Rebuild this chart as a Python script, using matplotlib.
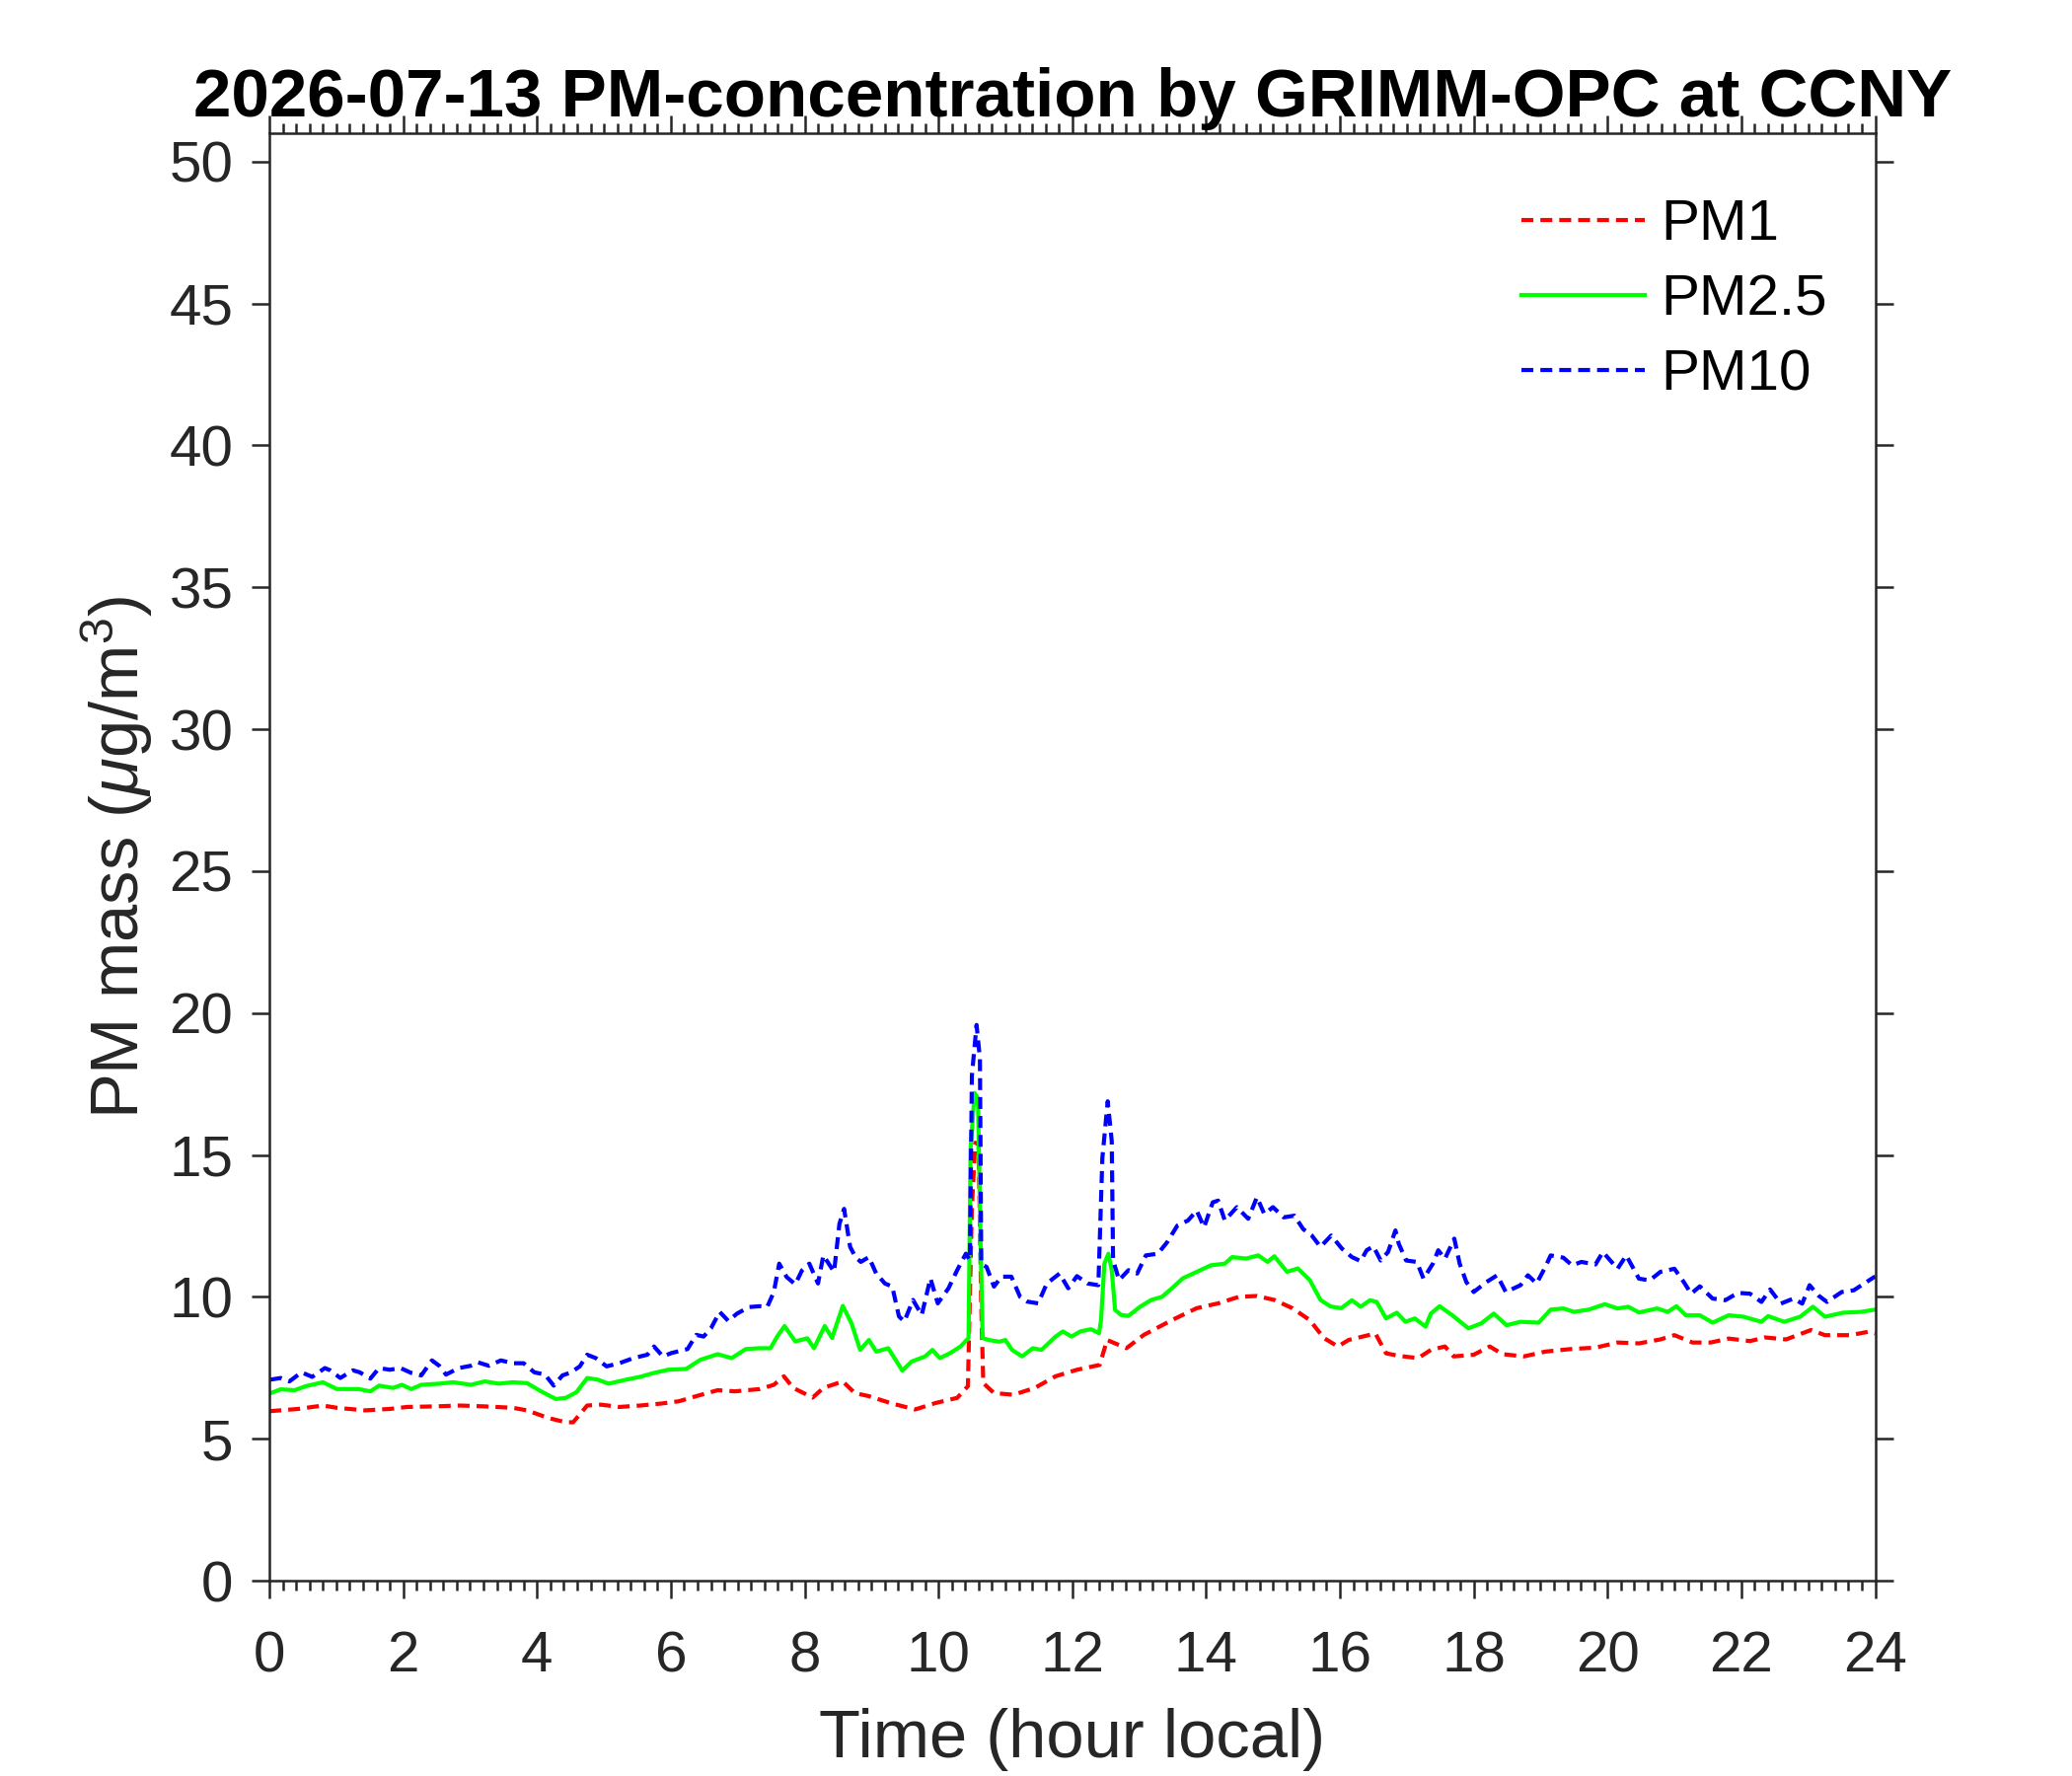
import matplotlib
matplotlib.use('Agg')
import matplotlib.pyplot as plt
from matplotlib.ticker import MultipleLocator, NullLocator

plt.rcParams['font.family'] = ['Liberation Sans', 'DejaVu Sans']
plt.rcParams['mathtext.fontset'] = 'custom'
plt.rcParams['mathtext.rm'] = 'Liberation Sans'
plt.rcParams['mathtext.it'] = 'Liberation Sans:italic'

# ---------------- data ----------------
t_pm1 = [0.0, 0.43, 0.8, 1.01, 1.43, 1.8, 2.06, 2.48, 2.85, 3.22, 3.64, 3.85, 4.17, 4.43, 4.54,
         4.75, 4.96, 5.23, 5.54, 5.86, 6.12, 6.38, 6.7, 6.96, 7.33, 7.54, 7.69, 7.83, 8.12, 8.28,
         8.57, 8.75, 8.96, 9.28, 9.65, 9.96, 10.28, 10.44, 10.5, 10.55, 10.6, 10.64, 10.67, 10.83,
         11.12, 11.44, 11.75, 12.07, 12.41, 12.52, 12.81, 13.07, 13.49, 13.86, 14.18, 14.49, 14.76,
         15.02, 15.29, 15.55, 15.76, 15.97, 16.13, 16.34, 16.53, 16.69, 16.88, 17.17, 17.36, 17.57,
         17.7, 18.0, 18.24, 18.43, 18.75, 19.07, 19.45, 19.82, 20.15, 20.47, 20.79, 21.0, 21.27,
         21.54, 21.81, 22.13, 22.35, 22.67, 23.04, 23.25, 23.63, 23.9, 24.0]
pm1 = [5.97, 6.05, 6.17, 6.09, 6.0, 6.05, 6.12, 6.14, 6.17, 6.14, 6.09, 6.0, 5.73, 5.58, 5.58,
       6.17, 6.2, 6.12, 6.17, 6.24, 6.32, 6.5, 6.71, 6.67, 6.75, 6.9, 7.2, 6.79, 6.45, 6.79,
       7.02, 6.61, 6.5, 6.26, 6.03, 6.26, 6.44, 6.85, 13.15, 15.43, 15.37, 9.64, 6.96, 6.61,
       6.55, 6.79, 7.2, 7.43, 7.6, 8.48, 8.19, 8.66, 9.18, 9.6, 9.77, 10.0, 10.03,
       9.89, 9.6, 9.18, 8.55, 8.25, 8.48, 8.6, 8.71, 8.01, 7.92, 7.84, 8.13, 8.25,
       7.9, 7.96, 8.25, 7.98, 7.9, 8.07, 8.16, 8.21, 8.39, 8.36, 8.5, 8.65, 8.39,
       8.39, 8.53, 8.44, 8.57, 8.5, 8.83, 8.65, 8.65, 8.77, 8.71]

t_pm25 = [0.01, 0.17, 0.38, 0.54, 0.8, 1.01, 1.33, 1.51, 1.64, 1.85, 1.98, 2.12, 2.27, 2.54, 2.75,
          3.01, 3.22, 3.43, 3.64, 3.85, 4.06, 4.28, 4.43, 4.59, 4.75, 4.91, 5.07, 5.33, 5.54, 5.75,
          5.96, 6.23, 6.44, 6.7, 6.91, 7.12, 7.33, 7.49, 7.59, 7.7, 7.86, 8.04, 8.14, 8.3, 8.41,
          8.57, 8.7, 8.83, 8.96, 9.07, 9.25, 9.46, 9.6, 9.8, 9.91, 10.02, 10.17, 10.33, 10.45, 10.48,
          10.54, 10.59, 10.62, 10.66, 10.75, 10.91, 11.0, 11.1, 11.25, 11.41, 11.54, 11.75, 11.86,
          11.99, 12.12, 12.28, 12.4, 12.43, 12.48, 12.54, 12.59, 12.64, 12.73, 12.84, 13.02, 13.18,
          13.34, 13.49, 13.65, 13.86, 14.07, 14.28, 14.39, 14.6, 14.78, 14.92, 15.02, 15.21, 15.37,
          15.55, 15.71, 15.86, 16.02, 16.18, 16.31, 16.45, 16.55, 16.69, 16.85, 16.98, 17.12, 17.28,
          17.36, 17.49, 17.68, 17.92, 18.11, 18.3, 18.49, 18.7, 18.97, 19.15, 19.34, 19.5, 19.72,
          19.96, 20.15, 20.31, 20.47, 20.74, 20.9, 21.03, 21.17, 21.38, 21.57, 21.81, 22.03, 22.3,
          22.4, 22.64, 22.88, 23.07, 23.25, 23.52, 23.79, 24.0]
pm25 = [6.6, 6.74, 6.71, 6.85, 6.99, 6.75, 6.75, 6.67, 6.87, 6.79, 6.9, 6.75, 6.9, 6.94, 6.99,
        6.9, 7.02, 6.94, 6.99, 6.96, 6.67, 6.4, 6.44, 6.64, 7.14, 7.08, 6.94, 7.08, 7.18, 7.32,
        7.43, 7.46, 7.78, 7.98, 7.84, 8.16, 8.19, 8.19, 8.6, 8.97, 8.43, 8.54, 8.19, 8.97, 8.55,
        9.68, 9.07, 8.13, 8.48, 8.07, 8.19, 7.4, 7.72, 7.9, 8.13, 7.84, 8.01, 8.25, 8.55, 15.2,
        17.18, 17.0, 13.15, 8.55, 8.48, 8.42, 8.48, 8.13, 7.9, 8.19, 8.13, 8.6, 8.78,
        8.6, 8.78, 8.86, 8.72, 9.18, 11.17, 11.52, 10.94, 9.54, 9.36, 9.33, 9.66, 9.89,
        10.0, 10.3, 10.65, 10.88, 11.11, 11.17, 11.4, 11.35, 11.46, 11.23, 11.43, 10.88, 11.0,
        10.59, 9.89, 9.66, 9.6, 9.88, 9.65, 9.88, 9.82, 9.24, 9.44, 9.12, 9.24, 8.95,
        9.41, 9.67, 9.35, 8.89, 9.06, 9.41, 9.0, 9.12, 9.09, 9.55, 9.59, 9.47, 9.55,
        9.74, 9.59, 9.65, 9.45, 9.59, 9.47, 9.67, 9.35, 9.35, 9.09, 9.35, 9.3, 9.12,
        9.32, 9.12, 9.3, 9.65, 9.3, 9.44, 9.47, 9.55]

t_pm10 = [0.01, 0.17, 0.3, 0.48, 0.64, 0.83, 0.91, 1.06, 1.25, 1.35, 1.51, 1.64, 1.8, 1.96, 2.12,
          2.27, 2.43, 2.54, 2.64, 2.83, 3.01, 3.12, 3.28, 3.46, 3.64, 3.8, 3.96, 4.12, 4.25, 4.38,
          4.51, 4.64, 4.75, 4.88, 5.04, 5.23, 5.44, 5.65, 5.75, 5.88, 6.01, 6.25, 6.38, 6.49, 6.6,
          6.73, 6.86, 6.99, 7.17, 7.33, 7.44, 7.54, 7.62, 7.73, 7.86, 7.96, 8.07,
          8.2, 8.28, 8.44, 8.52, 8.59, 8.68, 8.76, 8.84, 8.96, 9.07, 9.2, 9.31, 9.41, 9.49, 9.62,
          9.75, 9.88, 9.99, 10.15, 10.28, 10.41, 10.47, 10.5, 10.57, 10.62, 10.64, 10.72, 10.83,
          10.94, 11.09, 11.22, 11.33, 11.49, 11.62, 11.81, 11.94, 12.07, 12.23, 12.39, 12.45, 12.53,
          12.59, 12.61, 12.7, 12.84, 12.97, 13.1, 13.28, 13.42, 13.57, 13.73, 13.86, 13.97, 14.1,
          14.18, 14.28, 14.46, 14.63, 14.76, 14.87, 15.0, 15.16, 15.32, 15.45, 15.58, 15.71, 15.87,
          16.03,
          16.18, 16.31, 16.4, 16.5, 16.61, 16.72, 16.83, 16.88, 16.99, 17.15, 17.25, 17.39, 17.47,
          17.57, 17.71, 17.79, 17.89, 18.0, 18.19, 18.35, 18.48, 18.7, 18.81, 18.94, 19.07, 19.15,
          19.34, 19.47, 19.61, 19.82, 19.93, 20.15, 20.28, 20.47, 20.63, 20.79, 21.0, 21.14, 21.25,
          21.38, 21.57, 21.76, 21.95, 22.13, 22.3, 22.43, 22.59, 22.78, 22.91, 23.02, 23.15, 23.28,
          23.5, 23.68, 23.87, 24.0]
pm10 = [7.08, 7.14, 7.02, 7.34, 7.18, 7.49, 7.41, 7.14, 7.41, 7.34, 7.12, 7.49, 7.43, 7.49, 7.32,
        7.23, 7.76, 7.57, 7.26, 7.49, 7.57, 7.69, 7.57, 7.76, 7.66, 7.66, 7.34, 7.26, 6.87, 7.23,
        7.34, 7.55, 7.96, 7.84, 7.55, 7.66, 7.84, 7.96, 8.25, 7.9, 8.02, 8.16, 8.66, 8.6, 8.89,
        9.47, 9.15, 9.41, 9.64, 9.67, 9.64, 10.17, 11.17, 10.7, 10.44, 10.93, 11.17,
        10.47, 11.46, 10.88, 12.57, 13.1, 11.76, 11.4, 11.23, 11.4, 10.82, 10.47, 10.36, 9.31, 9.13, 9.89,
        9.36, 10.65, 9.77, 10.3, 10.94, 11.52, 11.29, 17.8, 19.58, 18.4, 11.17, 11.05, 10.36,
        10.71, 10.71, 10.0, 9.83, 9.77, 10.47, 10.82, 10.3, 10.73, 10.47, 10.41, 14.9, 16.89,
        15.49, 11.29, 10.59, 10.94, 10.82, 11.46, 11.52, 11.93, 12.51, 12.69, 13.04, 12.45, 13.33,
        13.39, 12.69, 13.16, 12.75, 13.51, 12.92, 13.16, 12.8, 12.86, 12.39, 12.16, 11.76, 12.16,
        11.7,
        11.4, 11.26, 11.64, 11.78, 11.28, 11.58, 12.34, 11.87, 11.28, 11.23, 10.64, 11.17, 11.64,
        11.34, 12.05, 11.17, 10.52, 10.17, 10.52, 10.76, 10.17, 10.41, 10.76, 10.47, 11.05, 11.46,
        11.38, 11.11, 11.23, 11.14, 11.58, 10.99, 11.46, 10.64, 10.58, 10.88, 10.99, 10.52, 10.11,
        10.37, 9.94, 9.88, 10.14, 10.11, 9.82, 10.26, 9.76, 9.94, 9.76, 10.41, 10.05, 9.82,
        10.17, 10.23, 10.52, 10.72]

series_labels = ['PM1', 'PM2.5', 'PM10']
x_ticks = list(range(0, 25, 2))
y_ticks = list(range(0, 51, 5))
title_text = '2026-07-13 PM-concentration by GRIMM-OPC at CCNY'

# ---------------- figure ----------------
fig = plt.figure(figsize=(7, 6), dpi=300)
ax = fig.add_axes([0.13, 0.11, 0.775, 0.815])

dash = (0, (2.9, 1.7))
ax.plot(t_pm1, pm1, color='#FF0000', lw=1.0, ls=dash, label=series_labels[0])
ax.plot(t_pm25, pm25, color='#00FF00', lw=1.0, ls='-', label=series_labels[1])
ax.plot(t_pm10, pm10, color='#0000FF', lw=1.0, ls=dash, label=series_labels[2])

ax.set_xlim(0, 24)
ax.set_ylim(0, 51)
ax.set_xticks(x_ticks)
ax.set_yticks(y_ticks)
ax.xaxis.set_minor_locator(MultipleLocator(0.2))
ax.yaxis.set_minor_locator(NullLocator())

ax.tick_params(which='both', direction='out', top=True, right=True,
               colors='#262626', labelsize=14, width=0.6)
ax.tick_params(which='major', length=4.3)
ax.tick_params(which='minor', length=2.3)
ax.tick_params(axis='x', which='major', pad=7.8)
ax.tick_params(axis='y', which='major', pad=4.5)
for s in ax.spines.values():
    s.set_color('#262626')
    s.set_linewidth(0.6)

ax.set_xlabel('Time (hour local)', fontsize=16.5, color='#262626', labelpad=6)
ax.set_ylabel(r'PM mass ($\mu$g/m$^3$)', fontsize=16.5, color='#262626', labelpad=3.5)
ax.set_title(title_text, fontsize=16.6, fontweight='bold', color='black', pad=4)

leg = ax.legend(loc='upper left', bbox_to_anchor=(0.78, 0.955), frameon=False, fontsize=14,
                handlelength=2.14, handletextpad=0.27, labelspacing=0.38,
                borderpad=0, borderaxespad=0)
for txt in leg.get_texts():
    txt.set_color('black')

fig.savefig('out.png', dpi=300)
